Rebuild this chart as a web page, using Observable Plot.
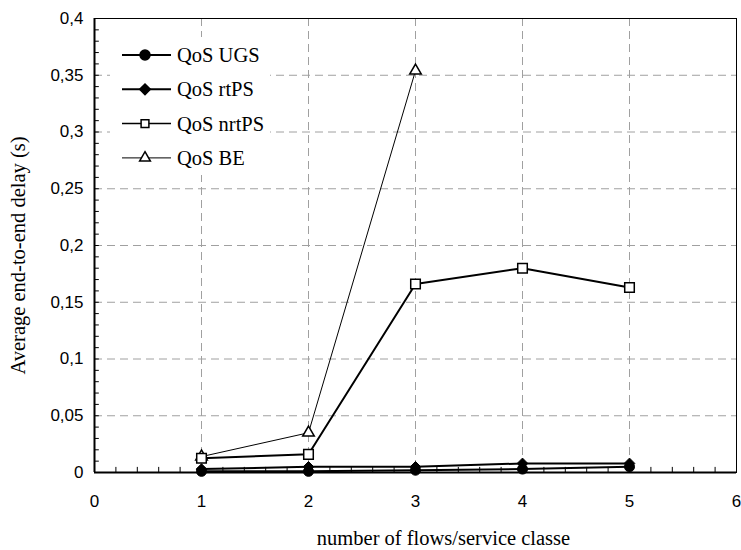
<!DOCTYPE html>
<html>
<head>
<meta charset="utf-8">
<script src="https://cdn.jsdelivr.net/npm/d3@7"></script>
<script src="https://cdn.jsdelivr.net/npm/@observablehq/plot@0.6"></script>
<style>
  html, body { margin: 0; padding: 0; background: #fff; }
</style>
</head>
<body>
<script>
// ---- data ----
const flows = [1, 2, 3, 4, 5];
const ugsDelay = [0.001, 0.001, 0.002, 0.003, 0.005];
const rtpsDelay = [0.003, 0.005, 0.005, 0.008, 0.008];
const nrtpsDelay = [0.0125, 0.016, 0.166, 0.180, 0.163];
const beFlows = [1, 2, 3];
const beDelay = [0.014, 0.035, 0.354];
const seriesNames = ["QoS UGS", "QoS rtPS", "QoS nrtPS", "QoS BE"];
const xTicks = [0, 1, 2, 3, 4, 5, 6];
const yTicks = [0, 0.05, 0.1, 0.15, 0.2, 0.25, 0.3, 0.35, 0.4];
const xTitle = "number of flows/service classe";
const yTitle = "Average end-to-end delay (s)";

const ugs = flows.map((x, i) => ({x, y: ugsDelay[i]}));
const rtps = flows.map((x, i) => ({x, y: rtpsDelay[i]}));
const nrtps = flows.map((x, i) => ({x, y: nrtpsDelay[i]}));
const be = beFlows.map((x, i) => ({x, y: beDelay[i]}));

const yMinor = d3.range(1, 40).map(i => i / 100);
const xMinor = d3.range(1, 30).map(i => i / 5);
const fmt = d => String(+d.toFixed(2)).replace(".", ",");

const serif = "'Liberation Serif', 'Times New Roman', serif";
const grid = "#a0a0a0";

const chart = Plot.plot({
  width: 741,
  height: 550,
  marginLeft: 94,
  marginRight: 5,
  marginTop: 18,
  marginBottom: 78,
  x: {domain: [0, 6]},
  y: {domain: [0, 0.4]},
  style: {fontFamily: "'Liberation Sans', Arial, sans-serif", fontSize: "17px", color: "#000", background: "#fff", overflow: "visible"},
  marks: [
    Plot.ruleY(yTicks.filter(d => d > 0 && d < 0.4), {stroke: grid, strokeDasharray: "8,5"}),
    Plot.ruleX(xTicks.filter(d => d > 0 && d < 6), {stroke: grid, strokeDasharray: "8,5"}),
    Plot.ruleY(yMinor, {x1: 0, x2: 0.045, stroke: "#000"}),
    Plot.ruleX(xMinor, {y1: 0, y2: 0.0045, stroke: "#000"}),
    Plot.frame({stroke: "#000", strokeWidth: 1}),
    Plot.ruleX([0], {stroke: "#000", strokeWidth: 2}),
    Plot.ruleY([0], {stroke: "#000", strokeWidth: 2}),
    Plot.axisY({ticks: yTicks, tickSize: 0, tickPadding: 11, tickFormat: fmt, label: null}),
    Plot.axisX({ticks: xTicks, tickSize: 0, tickPadding: 22, tickFormat: d => String(d), label: null}),
    Plot.text([xTitle], {frameAnchor: "bottom", textAnchor: "middle", lineAnchor: "middle", dx: 28, dy: 66, fontFamily: serif, fontSize: 20.5}),
    Plot.text([yTitle], {frameAnchor: "left", textAnchor: "middle", lineAnchor: "middle", dx: -76, dy: 10, rotate: -90, fontFamily: serif, fontSize: 20.5}),
    // series
    Plot.line(be, {x: "x", y: "y", stroke: "#000", strokeWidth: 1}),
    Plot.line(nrtps, {x: "x", y: "y", stroke: "#000", strokeWidth: 2}),
    Plot.line(rtps, {x: "x", y: "y", stroke: "#000", strokeWidth: 2}),
    Plot.line(ugs, {x: "x", y: "y", stroke: "#000", strokeWidth: 2}),
    Plot.dot(be, {x: "x", y: "y", symbol: "triangle", r: 4.3, fill: "#fff", stroke: "#000", strokeWidth: 1.5}),
    Plot.dot(nrtps, {x: "x", y: "y", symbol: "square", r: 5.4, fill: "#fff", stroke: "#000", strokeWidth: 1.5}),
    Plot.dot(rtps, {x: "x", y: "y", symbol: "diamond2", r: 4.8, fill: "#000", stroke: "#000", strokeWidth: 1}),
    Plot.dot(ugs, {x: "x", y: "y", symbol: "circle", r: 5, fill: "#000", stroke: "#000", strokeWidth: 1})
  ]
});

// ---- legend (inside plot area, top-left, white box) ----
const svg = d3.select(chart);
const leg = svg.append("g").attr("class", "legend");
leg.append("rect").attr("x", 110).attr("y", 37).attr("width", 160).attr("height", 138).attr("fill", "#fff");
const legendSpec = [
  {name: seriesNames[0], sym: d3.symbolCircle, size: Math.PI * 25, fill: "#000", lw: 2},
  {name: seriesNames[1], sym: d3.symbolDiamond2, size: Math.PI * 4.8 * 4.8, fill: "#000", lw: 2},
  {name: seriesNames[2], sym: d3.symbolSquare, size: Math.PI * 4.4 * 4.4, fill: "#fff", lw: 1.5},
  {name: seriesNames[3], sym: d3.symbolTriangle, size: Math.PI * 4 * 4, fill: "#fff", lw: 1}
];
legendSpec.forEach((s, i) => {
  const y = 55 + i * 34.3;
  leg.append("line").attr("x1", 122).attr("x2", 171).attr("y1", y).attr("y2", y)
    .attr("stroke", "#000").attr("stroke-width", s.lw);
  leg.append("path").attr("d", d3.symbol(s.sym, s.size)())
    .attr("transform", `translate(145,${y})`)
    .attr("fill", s.fill).attr("stroke", "#000").attr("stroke-width", 1.5);
  leg.append("text").attr("x", 177).attr("y", y).attr("dy", "0.35em")
    .attr("text-anchor", "start")
    .attr("font-family", serif).attr("font-size", 20.5).attr("fill", "#000")
    .text(s.name);
});

document.body.append(chart);
</script>
</body>
</html>
